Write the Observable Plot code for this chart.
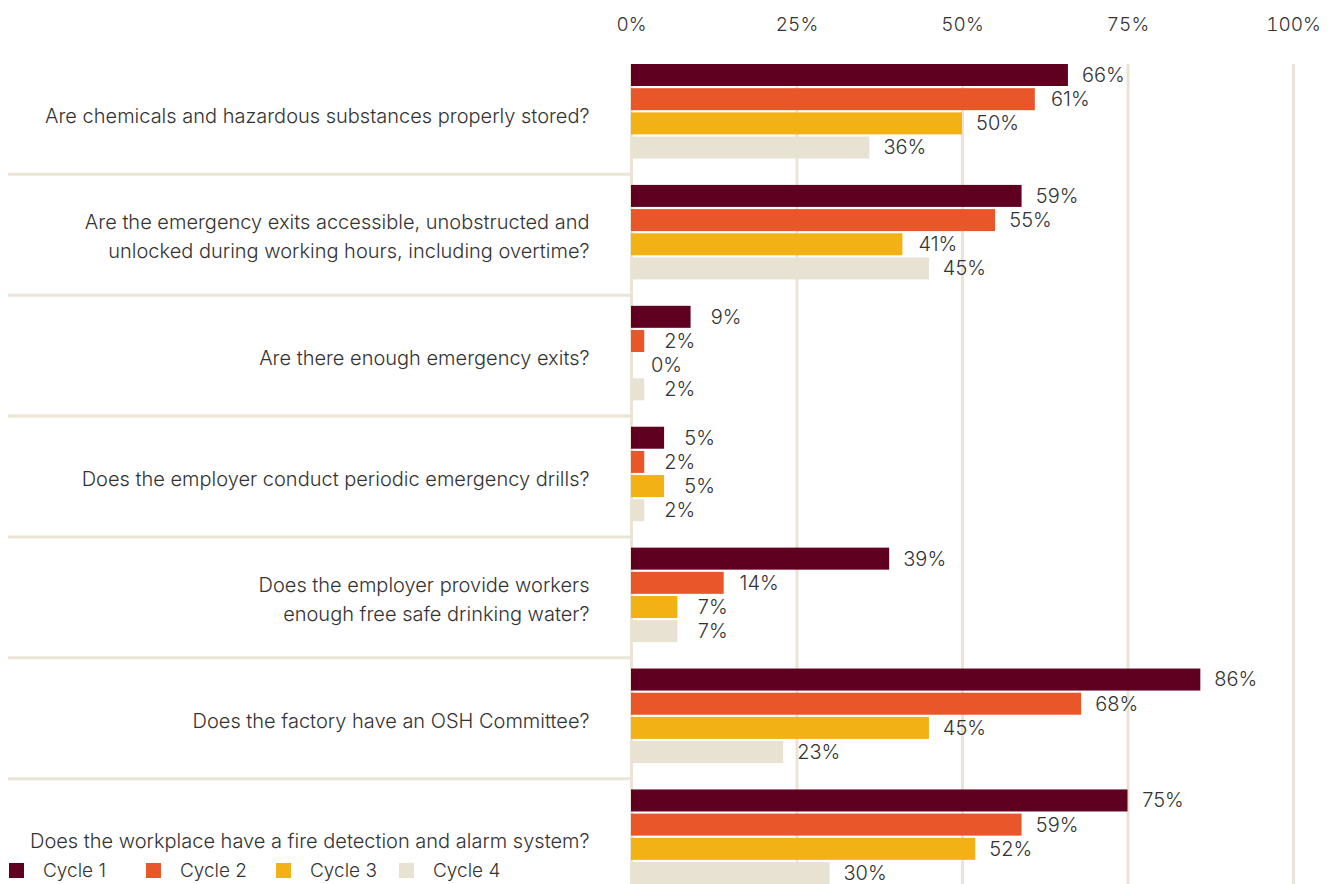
<!DOCTYPE html>
<html>
<head>
<meta charset="utf-8">
<script src="https://cdn.jsdelivr.net/npm/d3@7"></script>
<script src="https://cdn.jsdelivr.net/npm/@observablehq/plot@0.6"></script>
<style>
  html, body { margin: 0; padding: 0; background: #fff; overflow: hidden; }
  #wrap { position: relative; width: 1331px; height: 884px; }
  #legend { position: absolute; left: 9px; top: 859px; display: flex; align-items: center;
            font-family: Inter, sans-serif; font-weight: 300; font-size: 19px; color: #333; }
  #legend .item { display: flex; align-items: center; }
  #legend .sw { width: 15px; height: 15px; margin-right: 19px; }
</style>
</head>
<body>
<div id="wrap"><div id="chart"></div><div id="legend"></div></div>
<script>
const questions = [
  "Are chemicals and hazardous substances properly stored?",
  "Are the emergency exits accessible, unobstructed and\nunlocked during working hours, including overtime?",
  "Are there enough emergency exits?",
  "Does the employer conduct periodic emergency drills?",
  "Does the employer provide workers\nenough free safe drinking water?",
  "Does the factory have an OSH Committee?",
  "Does the workplace have a fire detection and alarm system?"
];
const cycles = ["Cycle 1", "Cycle 2", "Cycle 3", "Cycle 4"];
const cycle1 = [66, 59, 9, 5, 39, 86, 75];
const cycle2 = [61, 55, 2, 2, 14, 68, 59];
const cycle3 = [50, 41, 0, 5, 7, 45, 52];
const cycle4 = [36, 45, 2, 2, 7, 23, 30];
const colors = ["#600020", "#E8562A", "#F2B216", "#E8E2D2"];
const xTicks = [0, 25, 50, 75, 100];

const series = [cycle1, cycle2, cycle3, cycle4];
const rows = [];
const yKeys = [];
const gapKeys = [];
questions.forEach((q, qi) => {
  cycles.forEach((c, ci) => {
    const key = qi + "|" + c;
    yKeys.push(key);
    rows.push({question: q, cycle: c, value: series[ci][qi], key});
  });
  if (qi < questions.length - 1) {
    const g = qi + "|gap";
    yKeys.push(g);
    gapKeys.push(g);
  }
});
const labelRows = questions.map((q, qi) => ({question: q, key: qi + "|Cycle 2"}));

const grid = "#E9E4D6";
const font = "Inter, sans-serif";
const plot = Plot.plot({
  width: 1331,
  height: 884,
  marginLeft: 631,
  marginRight: 38,
  marginTop: 64,
  marginBottom: 0,
  style: {fontFamily: font, fontWeight: 300, fontSize: "19px", color: "#333", background: "#fff"},
  x: {domain: [0, 100], axis: "top", label: null, ticks: xTicks, tickFormat: d => d + "%", tickSize: 0, tickPadding: 34},
  y: {domain: yKeys, paddingInner: 0.09, paddingOuter: 0, round: false, axis: null},
  color: {domain: cycles, range: colors},
  marks: [
    Plot.ruleX(xTicks, {x: d => d, stroke: grid, strokeWidth: 3}),
    Plot.ruleY(gapKeys, {y: d => d, x1: 0, x2: 0, insetLeft: -623, dy: 2, stroke: grid, strokeWidth: 3}),
    Plot.barX(rows, {x: "value", y: "key", fill: "cycle"}),
    Plot.text(rows, {x: "value", y: "key", text: d => d.value + "%", textAnchor: "middle", dx: 35, dy: 0,
                     fill: "#333", fontSize: 20, fontWeight: 300, fontFamily: font}),
    Plot.text(labelRows, {x: 0, y: "key", text: "question", textAnchor: "end", dx: -42, dy: 14,
                          lineHeight: 1.45, fill: "#333", fontSize: 20, fontWeight: 300, fontFamily: font})
  ]
});
document.getElementById("chart").appendChild(plot);

const legend = d3.select("#legend");
const gaps = [40, 29, 22, 0];
cycles.forEach((c, i) => {
  const it = legend.append("div").attr("class", "item").style("margin-right", gaps[i] + "px");
  it.append("div").attr("class", "sw").style("background", colors[i]);
  it.append("span").text(c);
});
</script>
</body>
</html>
